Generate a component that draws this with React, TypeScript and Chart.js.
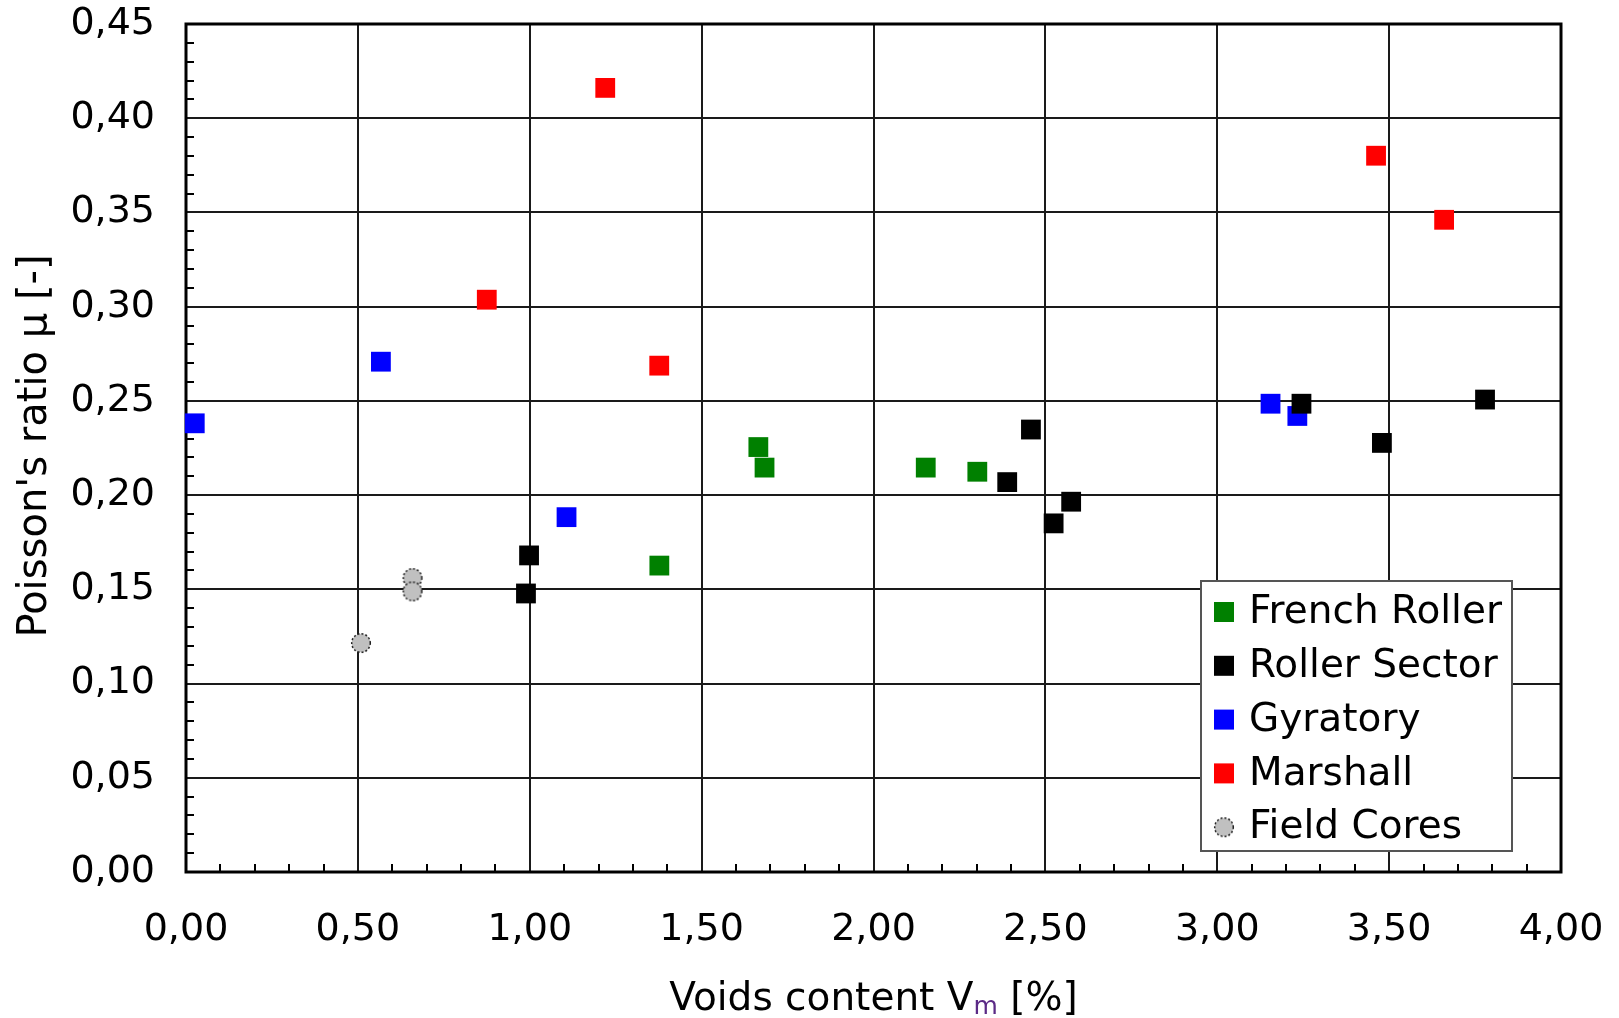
import React, { useEffect, useRef } from "react";
import { Chart, registerables } from "chart.js";

Chart.register(...registerables);

// ---- Data ----
const seriesNames = ["French Roller", "Roller Sector", "Gyratory", "Marshall", "Field Cores"];

const frenchRollerX = [1.665, 1.683, 1.377, 2.152, 2.302];
const frenchRollerY = [0.2255, 0.2146, 0.1626, 0.2146, 0.2124];

const rollerSectorX = [0.998, 0.989, 2.389, 2.458, 2.524, 2.575, 3.245, 3.479, 3.779];
const rollerSectorY = [0.168, 0.1478, 0.2069, 0.2348, 0.185, 0.1965, 0.2485, 0.2277, 0.2507];

const gyratoryX = [0.0255, 0.567, 1.107, 3.155, 3.233];
const gyratoryY = [0.2381, 0.2708, 0.1883, 0.2485, 0.242];

const marshallX = [1.2196, 0.875, 1.3767, 3.462, 3.66];
const marshallY = [0.4161, 0.3037, 0.2687, 0.3801, 0.3461];

const fieldCoresX = [0.509, 0.659, 0.659];
const fieldCoresY = [0.1215, 0.156, 0.1489];

const xMin = 0, xMax = 4, xStep = 0.5, xMinorStep = 0.1;
const yMin = 0, yMax = 0.45, yStep = 0.05, yMinorStep = 0.01;

const xTitleMain = "Voids content V";
const xTitleSub = "m";
const xTitleEnd = " [%]";
const yTitle = "Poisson's ratio \u03BC [-]";

const colors = ["#008000", "#000000", "#0000ff", "#ff0000", "#c0c0c0"];

const FONT = '"DejaVu Sans", Verdana, sans-serif';

const fmt = (v: number) => (Math.round(v * 100) / 100).toFixed(2).replace(".", ",");

function makeCircle(): HTMLCanvasElement {
  const c = document.createElement("canvas");
  c.width = 22;
  c.height = 22;
  const ctx = c.getContext("2d")!;
  ctx.beginPath();
  ctx.arc(11, 11, 9.3, 0, Math.PI * 2);
  ctx.fillStyle = "#c0c0c0";
  ctx.fill();
  ctx.setLineDash([2, 2]);
  ctx.lineWidth = 1.5;
  ctx.strokeStyle = "#222";
  ctx.stroke();
  return c;
}

const zip = (xs: number[], ys: number[]) => xs.map((x, i) => ({ x, y: ys[i] }));

export default function App() {
  const ref = useRef<HTMLCanvasElement | null>(null);

  useEffect(() => {
    if (!ref.current) return;
    const circle = makeCircle();

    const framePlugin = {
      id: "frameAndMinor",
      beforeDatasetsDraw(chart: any) {
        const { ctx, chartArea: a, scales } = chart;
        const xs = scales.x, ys = scales.y;
        ctx.save();
        ctx.strokeStyle = "#000";
        ctx.lineWidth = 2;
        for (let i = 1; i < Math.round((yMax - yMin) / yMinorStep); i++) {
          if (i % 5 === 0) continue;
          const py = Math.round(ys.getPixelForValue(yMin + i * yMinorStep));
          ctx.beginPath();
          ctx.moveTo(a.left, py);
          ctx.lineTo(a.left + 8, py);
          ctx.stroke();
        }
        for (let i = 1; i < Math.round((xMax - xMin) / xMinorStep); i++) {
          if (i % 5 === 0) continue;
          const px = Math.round(xs.getPixelForValue(xMin + i * xMinorStep));
          ctx.beginPath();
          ctx.moveTo(px, a.bottom);
          ctx.lineTo(px, a.bottom - 8);
          ctx.stroke();
        }
        ctx.lineWidth = 3;
        ctx.strokeRect(a.left, a.top, a.right - a.left, a.bottom - a.top);
        ctx.restore();
      },
      afterDraw(chart: any) {
        const { ctx, chartArea: a } = chart;
        ctx.save();
        // legend
        const lx = 1201, ly = 581, lw = 311, lh = 270;
        ctx.fillStyle = "#fff";
        ctx.fillRect(lx, ly, lw, lh);
        ctx.strokeStyle = "#555";
        ctx.lineWidth = 2;
        ctx.strokeRect(lx, ly, lw, lh);
        ctx.font = `39px ${FONT}`;
        ctx.textBaseline = "middle";
        ctx.textAlign = "left";
        chart.data.datasets.forEach((ds: any, i: number) => {
          const cy = 612 + i * 53.8;
          if (ds.pointStyle === "rect") {
            ctx.fillStyle = ds.backgroundColor;
            ctx.fillRect(1214, cy - 10, 20, 20);
          } else {
            ctx.drawImage(ds.pointStyle, 1224 - 11, cy - 11);
          }
          ctx.fillStyle = "#000";
          ctx.fillText(ds.label, 1249, cy + 1);
        });

        // x title with subscript
        const cx = (a.left + a.right) / 2;
        const base = 1010;
        ctx.textBaseline = "alphabetic";
        ctx.font = `39px ${FONT}`;
        const w1 = ctx.measureText(xTitleMain).width;
        const w3 = ctx.measureText(xTitleEnd).width;
        ctx.font = `25px ${FONT}`;
        const w2 = ctx.measureText(xTitleSub).width;
        let sx = cx - (w1 + w2 + w3) / 2;
        ctx.fillStyle = "#000";
        ctx.font = `39px ${FONT}`;
        ctx.fillText(xTitleMain, sx, base);
        sx += w1;
        ctx.font = `25px ${FONT}`;
        ctx.fillStyle = "#5b2a86";
        ctx.fillText(xTitleSub, sx, base + 4);
        sx += w2;
        ctx.font = `39px ${FONT}`;
        ctx.fillStyle = "#000";
        ctx.fillText(xTitleEnd, sx, base);

        // y title rotated
        ctx.translate(36, (a.top + a.bottom) / 2 - 2);
        ctx.rotate(-Math.PI / 2);
        ctx.textAlign = "center";
        ctx.textBaseline = "middle";
        ctx.font = `40px ${FONT}`;
        ctx.fillStyle = "#000";
        ctx.fillText(yTitle, 0, 0);
        ctx.restore();
      },
    };

    const mk = (i: number, xs: number[], yv: number[]) => ({
      label: seriesNames[i],
      data: zip(xs, yv),
      backgroundColor: colors[i],
      borderColor: colors[i],
      borderWidth: 0,
      pointStyle: i === 4 ? circle : "rect",
      pointRadius: 14,
      pointHoverRadius: 14,
      clip: false as any,
    });

    const chart = new Chart(ref.current, {
      type: "scatter",
      data: {
        datasets: [
          mk(0, frenchRollerX, frenchRollerY),
          mk(1, rollerSectorX, rollerSectorY),
          mk(2, gyratoryX, gyratoryY),
          mk(3, marshallX, marshallY),
          mk(4, fieldCoresX, fieldCoresY),
        ] as any,
      },
      options: {
        responsive: false,
        animation: false,
        layout: { padding: { top: 24, right: 58, left: 0, bottom: 0 } },
        plugins: { legend: { display: false }, tooltip: { enabled: false } },
        scales: {
          x: {
            type: "linear",
            min: xMin,
            max: xMax,
            afterFit: (s: any) => {
              s.height = 146;
              s.paddingLeft = 0;
              s.paddingRight = 0;
            },
            ticks: {
              stepSize: xStep,
              padding: 35,
              color: "#000",
              font: { family: FONT, size: 38 },
              callback: (v: any) => fmt(Number(v)),
              maxRotation: 0,
              autoSkip: false,
            },
            grid: { color: "#1a1a1a", lineWidth: 2, drawTicks: false },
            border: { display: false },
          },
          y: {
            type: "linear",
            min: yMin,
            max: yMax,
            afterFit: (s: any) => {
              s.width = 186;
              s.paddingTop = 0;
              s.paddingBottom = 0;
            },
            ticks: {
              stepSize: yStep,
              padding: 31,
              color: "#000",
              font: { family: FONT, size: 38 },
              callback: (v: any) => fmt(Number(v)),
              autoSkip: false,
            },
            grid: { color: "#1a1a1a", lineWidth: 2, drawTicks: false },
            border: { display: false },
          },
        },
      },
      plugins: [framePlugin],
    });
    return () => chart.destroy();
  }, []);

  return (
    <div style={{ position: "absolute", left: 0, top: 0, width: 1619, height: 1018, background: "#fff" }}>
      <canvas ref={ref} width={1619} height={1018} style={{ display: "block" }} />
    </div>
  );
}
